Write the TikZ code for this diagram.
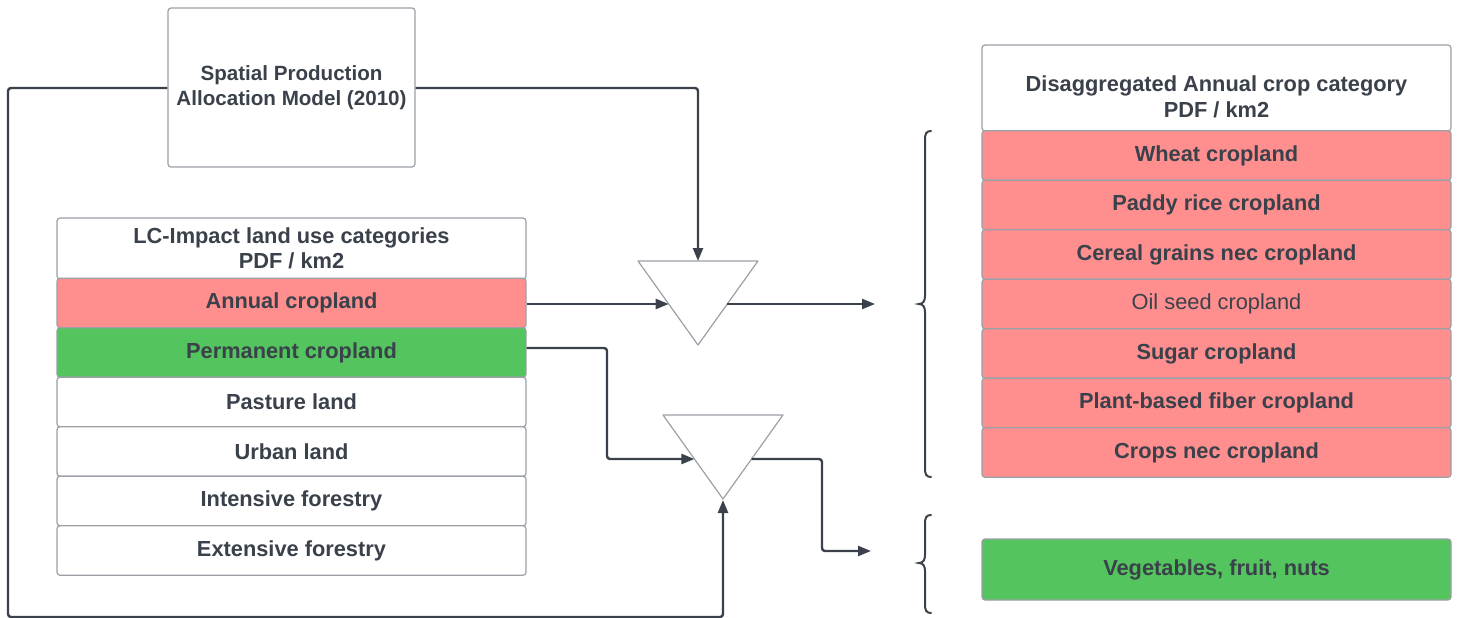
\documentclass[tikz,border=0pt]{standalone}
\usepackage{fontspec}
\setmainfont{Liberation Sans}
\usetikzlibrary{arrows.meta}
\definecolor{txt}{HTML}{3A414A}
\definecolor{boxgray}{HTML}{9AA0A6}
\definecolor{redf}{HTML}{FF8F8F}
\definecolor{greenf}{HTML}{54C45E}
\tikzset{
  cell/.style={draw=boxgray, line width=1.2pt, rounded corners=3pt, minimum width=469pt, minimum height=49.5pt, inner sep=0pt, text=txt, font=\bfseries\fontsize{21.8}{25.5}\selectfont, align=center},
  hdr/.style={cell, fill=white},
  redc/.style={cell, fill=redf},
  greenc/.style={cell, fill=greenf},
  whitec/.style={cell, fill=white},
  conn/.style={draw=txt, line width=2.4pt, rounded corners=3pt, -{Triangle[length=13pt,width=10pt]}},
  tri/.style={draw=boxgray, line width=1.2pt, fill=white, line join=round},
  bracel/.style={draw=txt, line width=2pt, line cap=round}
}
\begin{document}
\begin{tikzpicture}[x=1pt,y=-1pt]
\useasboundingbox (0,0) rectangle (1459,618);
% SPAM box
\node[whitec, minimum width=247pt, minimum height=159pt, font=\bfseries\fontsize{20.6}{24.5}\selectfont] (spam) at (291.5,87.5) {Spatial Production\\Allocation Model (2010)};
% Left table
\node[hdr, minimum height=61pt] (lhdr) at (291.5,248.5) {LC-Impact land use categories\\PDF / km2};
\node[redc] (annual) at (291.5,303) {Annual cropland};
\node[greenc] (perm) at (291.5,352.5) {Permanent cropland};
\node[whitec] (past) at (291.5,402) {Pasture land};
\node[whitec] (urban) at (291.5,451.5) {Urban land};
\node[whitec] (intf) at (291.5,501) {Intensive forestry};
\node[whitec] (extf) at (291.5,550.5) {Extensive forestry};
% Right table
\node[hdr, minimum height=86pt] (rhdr) at (1216.5,88) {};
\node[text=txt, font=\bfseries\fontsize{21.8}{25.5}\selectfont, align=center] (rhdrt) at (1216.5,97) {Disaggregated Annual crop category\\PDF / km2};
\node[redc] (wheat) at (1216.5,155.5) {Wheat cropland};
\node[redc] (paddy) at (1216.5,205) {Paddy rice cropland};
\node[redc] (cereal) at (1216.5,254.5) {Cereal grains nec cropland};
\node[redc, font=\fontsize{21.8}{25.5}\selectfont] (oil) at (1216.5,304) {Oil seed cropland};
\node[redc] (sugar) at (1216.5,353.5) {Sugar cropland};
\node[redc] (fiber) at (1216.5,403) {Plant-based fiber cropland};
\node[redc] (cnec) at (1216.5,452.5) {Crops nec cropland};
\node[greenc, minimum height=61pt] (veg) at (1216.5,569.5) {Vegetables, fruit, nuts};
% Triangles
\draw[tri] (638,261) coordinate (t1a) -- (758,261) coordinate (t1b) -- (698,345) coordinate (t1c) -- cycle;
\draw[tri] (663,415) coordinate (t2a) -- (783,415) coordinate (t2b) -- (723,499) coordinate (t2c) -- cycle;
\coordinate (t1top) at (698,261);
\coordinate (t1l) at (668.7,304);
\coordinate (t1r) at (727.3,304);
\coordinate (t2l) at (694.4,459);
\coordinate (t2r) at (751.6,459);
\coordinate (t2bot) at (723,500);
\coordinate (out1) at (875,304);
\coordinate (out2) at (871,551);
% Connectors
\draw[conn] (spam.east |- 0,88) -- (698,88) -- (t1top);
\draw[conn] (annual.east |- t1l) -- (t1l);
\draw[conn] (t1r) -- (out1);
\draw[conn] (perm.east |- 0,348) -- (607,348) -- (607,459) -- (t2l);
\draw[conn] (t2r) -- (822,459) -- (822,551) -- (out2);
\draw[conn] (spam.west |- 0,88) -- (8,88) -- (8,617) -- (723,617) -- (t2bot);
% Braces
\draw[bracel] (931,131) .. controls (926,131) and (925,134) .. (925,140) -- (925,296) .. controls (925,301) and (923,304) .. (919,304) .. controls (923,304) and (925,307) .. (925,312) -- (925,468) .. controls (925,474) and (926,477) .. (931,477);
\draw[bracel] (931,515) .. controls (926,515) and (925,518) .. (925,524) -- (925,555) .. controls (925,560) and (923,563) .. (919,563) .. controls (923,563) and (925,566) .. (925,571) -- (925,604) .. controls (925,610) and (926,613) .. (931,613);
\end{tikzpicture}
\end{document}
